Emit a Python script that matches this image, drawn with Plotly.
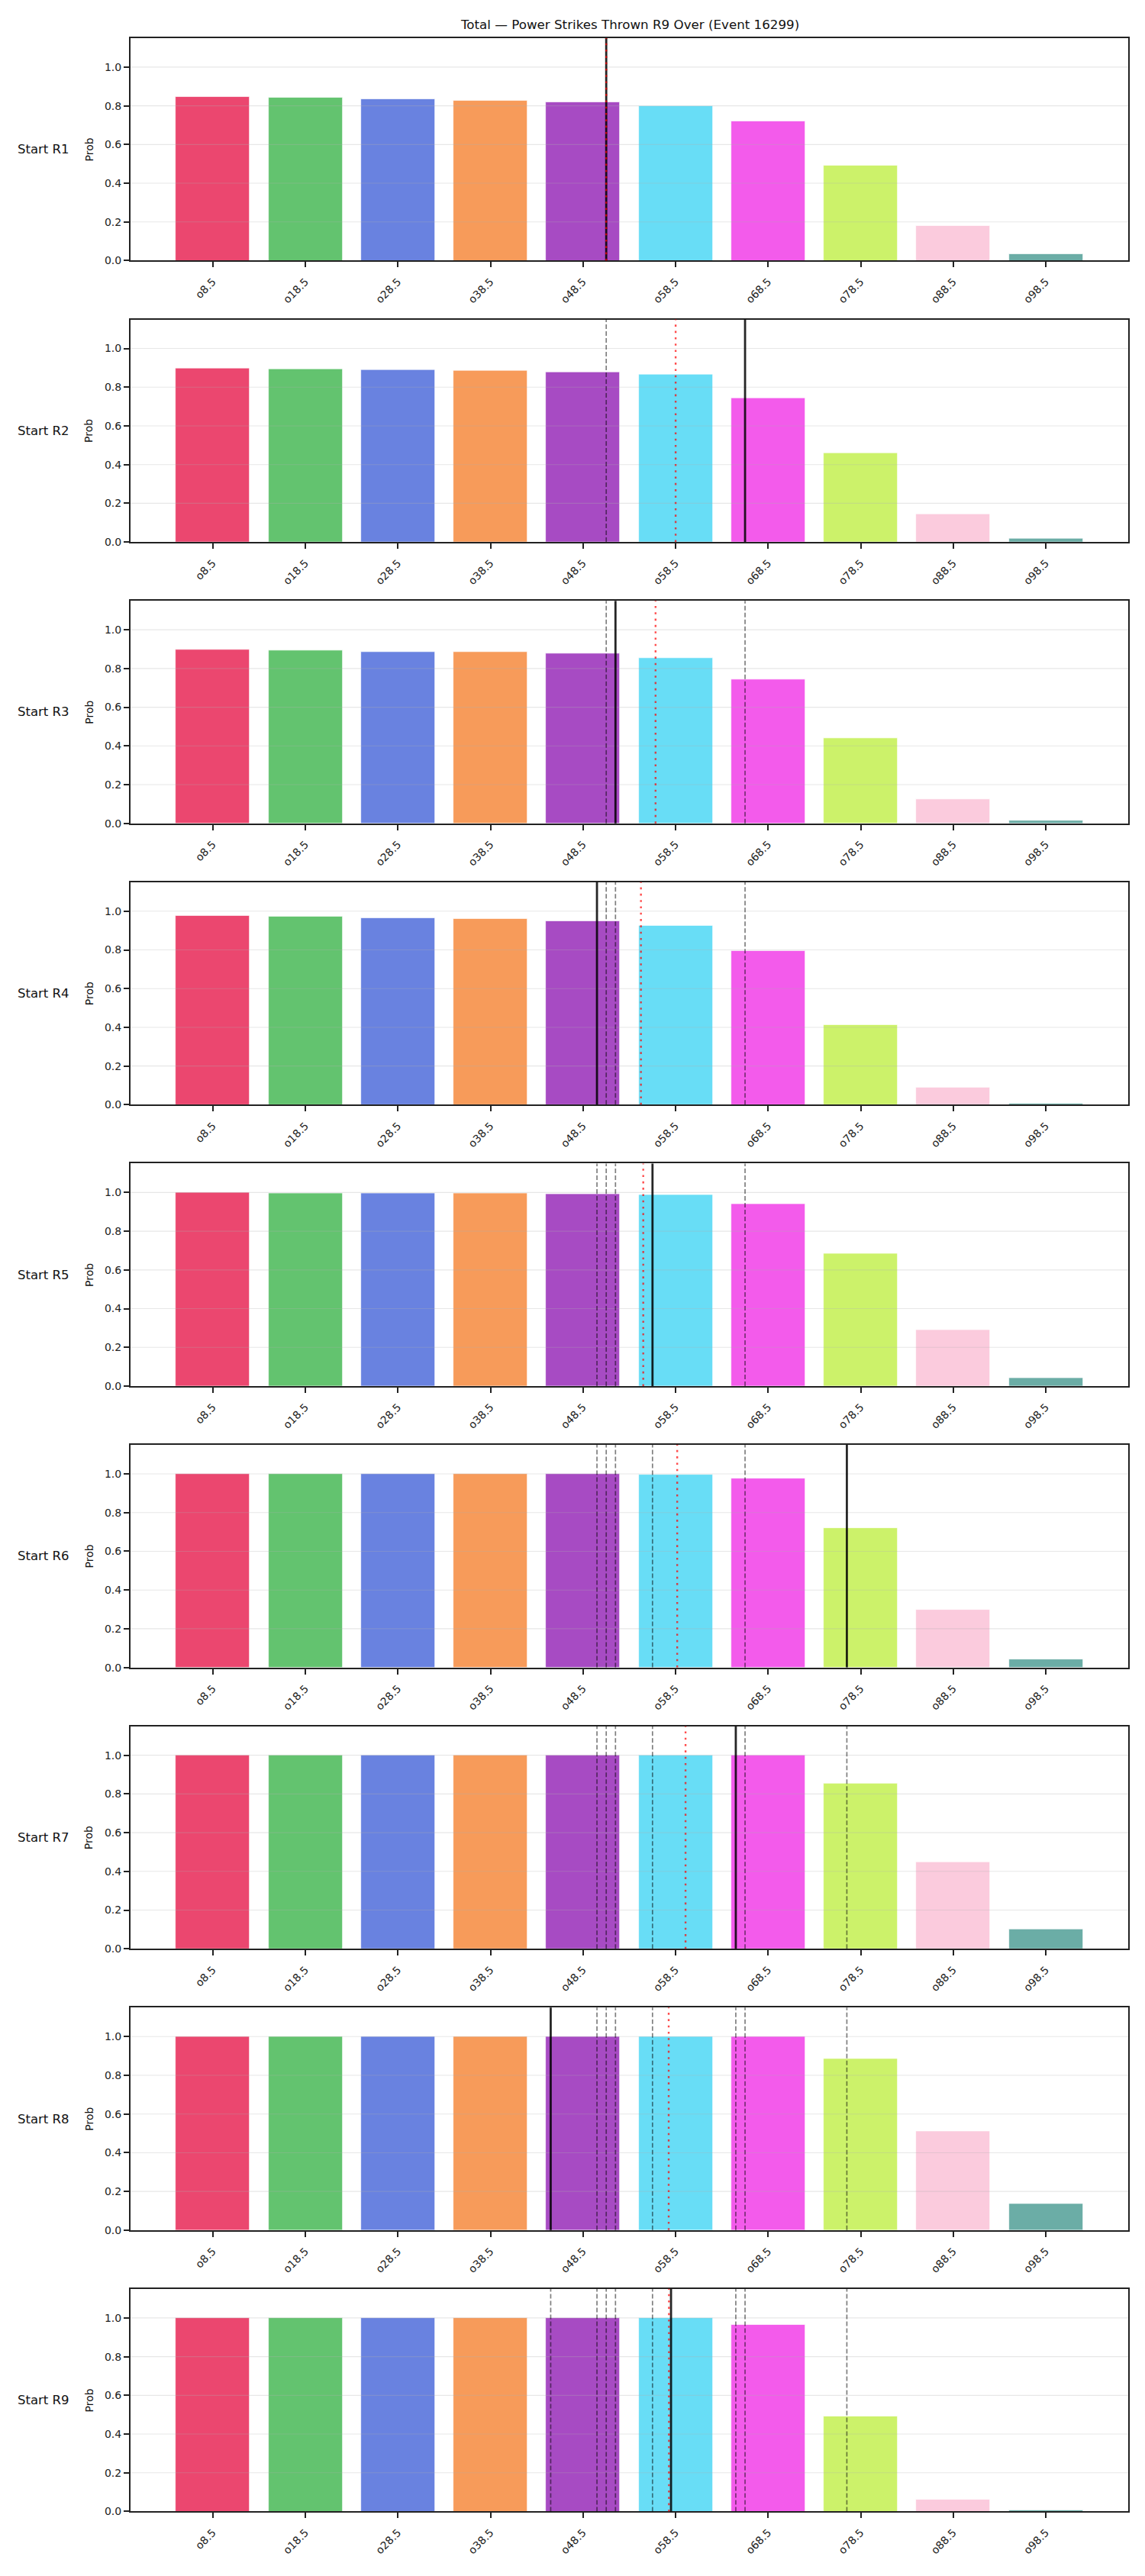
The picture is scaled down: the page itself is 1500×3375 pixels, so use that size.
import plotly.graph_objects as go

# ---------------- data ----------------
thresholds = [8.5, 18.5, 28.5, 38.5, 48.5, 58.5, 68.5, 78.5, 88.5, 98.5]
tick_labels = ["o8.5", "o18.5", "o28.5", "o38.5", "o48.5", "o58.5", "o68.5", "o78.5", "o88.5", "o98.5"]
row_labels = ["Start R1", "Start R2", "Start R3", "Start R4", "Start R5",
              "Start R6", "Start R7", "Start R8", "Start R9"]

prob_r1 = [0.848, 0.844, 0.836, 0.828, 0.820, 0.801, 0.722, 0.490, 0.179, 0.033]
prob_r2 = [0.898, 0.893, 0.889, 0.885, 0.876, 0.865, 0.743, 0.458, 0.145, 0.018]
prob_r3 = [0.898, 0.893, 0.887, 0.884, 0.877, 0.853, 0.743, 0.440, 0.125, 0.015]
prob_r4 = [0.978, 0.972, 0.965, 0.959, 0.947, 0.924, 0.794, 0.412, 0.088, 0.006]
prob_r5 = [0.999, 0.998, 0.997, 0.995, 0.994, 0.988, 0.940, 0.685, 0.290, 0.040]
prob_r6 = [1.000, 1.000, 1.000, 1.000, 0.999, 0.998, 0.977, 0.721, 0.300, 0.043]
prob_r7 = [1.000, 1.000, 1.000, 1.000, 1.000, 1.000, 0.999, 0.853, 0.450, 0.100]
prob_r8 = [1.000, 1.000, 1.000, 1.000, 1.000, 1.000, 0.999, 0.887, 0.510, 0.138]
prob_r9 = [1.000, 1.000, 1.000, 1.000, 1.000, 1.000, 0.966, 0.491, 0.060, 0.005]
probs = [prob_r1, prob_r2, prob_r3, prob_r4, prob_r5, prob_r6, prob_r7, prob_r8, prob_r9]

# current-round line (solid black), running average (red dotted)
round_lines = [51, 66, 52, 50, 56, 77, 65, 45, 58]
running_avg = [51.0, 58.5, 56.33, 54.75, 55.0, 58.67, 59.57, 57.75, 57.78]

bar_colors = ["#e6194b", "#3cb44b", "#4363d8", "#f58231", "#911eb4",
              "#42d4f4", "#f032e6", "#bfef45", "#fabed4", "#469990"]
y_ticks = [0.0, 0.2, 0.4, 0.6, 0.8, 1.0]

title_text = "Total — Power Strikes Thrown R9 Over (Event 16299)"

# ---------------- layout constants ----------------
W, H = 1500, 3375
AX_L, AX_R = 171, 1478
TOP0, STEP, PH = 50, 369.5, 292.3
FONT = "DejaVu Sans"
AXC = "#222222"


def rgba(hexc, a):
    h = hexc.lstrip("#")
    r, g, b = int(h[0:2], 16), int(h[2:4], 16), int(h[4:6], 16)
    return f"rgba({r},{g},{b},{a})"


fig = go.Figure()
layout = dict(
    width=W, height=H,
    margin=dict(l=0, r=0, t=0, b=0),
    paper_bgcolor="white", plot_bgcolor="white",
    showlegend=False,
    font=dict(family=FONT, size=14, color="#222222"),
    bargap=0,
)
shapes = []
annotations = []

x_lo = thresholds[0] - 8.9
x_hi = thresholds[-1] + 8.9

for i, vals in enumerate(probs):
    n = i + 1
    sfx = "" if n == 1 else str(n)
    top = TOP0 + i * STEP
    y1 = 1 - top / H
    y0 = 1 - (top + PH) / H
    fig.add_trace(go.Bar(
        x=thresholds, y=vals, width=8,
        marker=dict(color=[rgba(c, 0.8) for c in bar_colors],
                    line=dict(color="white", width=0.7)),
        xaxis="x" + sfx, yaxis="y" + sfx, hoverinfo="skip",
    ))
    layout["xaxis" + sfx] = dict(
        domain=[AX_L / W, AX_R / W], anchor="y" + sfx,
        range=[x_lo, x_hi], tickmode="array", tickvals=thresholds, ticktext=tick_labels,
        tickangle=-45, ticks="outside", ticklen=7, tickwidth=1.7, tickcolor=AXC,
        ticklabelstandoff=5,
        showline=True, linecolor=AXC, linewidth=2, mirror=True,
        showgrid=False, zeroline=False, tickfont=dict(size=14, family=FONT, color="#222"),
    )
    layout["yaxis" + sfx] = dict(
        domain=[y0, y1], anchor="x" + sfx,
        range=[0, 1.15], tickmode="array", tickvals=y_ticks,
        ticktext=[f"{v:.1f}" for v in y_ticks],
        ticks="outside", ticklen=7, tickwidth=1.7, tickcolor=AXC,
        showline=True, linecolor=AXC, linewidth=2, mirror=True,
        showgrid=False, zeroline=False, tickfont=dict(size=14, family=FONT, color="#222"),
    )
    # grid lines drawn over bars (light, translucent)
    for t in y_ticks[1:]:
        shapes.append(dict(type="line", xref=f"x{sfx} domain", yref="y" + sfx,
                           x0=0, x1=1, y0=t, y1=t, layer="above",
                           line=dict(color="rgba(176,176,176,0.3)", width=1.1)))
    # previous rounds (gray dashed)
    for v in round_lines[:i]:
        shapes.append(dict(type="line", xref="x" + sfx, yref=f"y{sfx} domain",
                           x0=v, x1=v, y0=0, y1=1, layer="above",
                           line=dict(color="rgba(0,0,0,0.5)", width=1.7, dash="6px,3px")))
    # current round (solid black)
    shapes.append(dict(type="line", xref="x" + sfx, yref=f"y{sfx} domain",
                       x0=round_lines[i], x1=round_lines[i], y0=0, y1=1, layer="above",
                       line=dict(color="rgba(0,0,0,0.85)", width=2.8)))
    # running average (red dotted)
    shapes.append(dict(type="line", xref="x" + sfx, yref=f"y{sfx} domain",
                       x0=running_avg[i], x1=running_avg[i], y0=0, y1=1, layer="above",
                       line=dict(color="rgba(255,0,0,0.7)", width=2.4, dash="2.6px,5.7px")))
    yc = (y0 + y1) / 2
    annotations.append(dict(text=row_labels[i], xref="paper", yref="paper",
                            x=57 / W, y=yc, xanchor="center", yanchor="middle",
                            showarrow=False, font=dict(size=16.5, family=FONT, color="#111")))
    annotations.append(dict(text="Prob", xref="paper", yref="paper",
                            x=116.7 / W, y=yc, xanchor="center", yanchor="middle",
                            textangle=-90, showarrow=False,
                            font=dict(size=14, family=FONT, color="#111")))

annotations.append(dict(text=title_text, xref="paper", yref="paper",
                        x=((AX_L + AX_R) / 2) / W, y=1 - 31.7 / H,
                        xanchor="center", yanchor="middle", showarrow=False,
                        font=dict(size=16.7, family=FONT, color="#111")))

layout["shapes"] = shapes
layout["annotations"] = annotations
fig.update_layout(**layout)
fig.write_html("out.html")
